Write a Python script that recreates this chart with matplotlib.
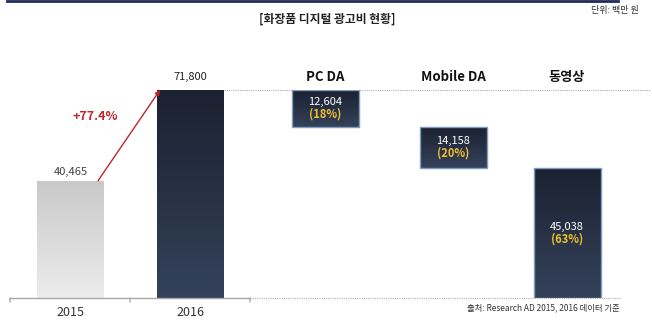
import matplotlib
matplotlib.use("Agg")
import matplotlib.pyplot as plt
import numpy as np
from matplotlib.colors import LinearSegmentedColormap

plt.rcParams['font.family'] = ['Noto Sans CJK KR', 'DejaVu Sans']

years = ["2015", "2016"]
year_values = [40465, 71800]
growth_label = "+77.4%"
segments = ["PC DA", "Mobile DA", "동영상"]
segment_values = [12604, 14158, 45038]
segment_shares = ["(18%)", "(20%)", "(63%)"]
title = "[화장품 디지털 광고비 현황]"
unit_label = "단위: 백만 원"
source_label = "출처: Research AD 2015, 2016 데이터 기준"

W, H = 652, 332
fig = plt.figure(figsize=(W / 100, H / 100), dpi=100)
ax = fig.add_axes([0, 34 / H, 1, 208 / H])
ax.set_xlim(0, W)
ax.set_ylim(0, max(year_values))
ax.axis('off')

# layout (pixel-like x positions)
year_x = [70.5, 190.5]
seg_x = [325, 453.5, 567]
bw = 67

dark = LinearSegmentedColormap.from_list("dark", ["#1b2130", "#34425a"])
light = LinearSegmentedColormap.from_list("light", ["#c9c9c9", "#ececec"])
grad = np.linspace(0, 1, 256).reshape(-1, 1)


def grad_bar(x, bottom, height, cmap, edge=None, lw=0):
    bars = ax.bar(x, height, bottom=bottom, width=bw, color='none',
                  edgecolor='none', linewidth=0, zorder=3)
    b = bars[0]
    im = ax.imshow(grad, cmap=cmap, aspect='auto', zorder=2,
                   extent=[x - bw / 2, x + bw / 2, bottom, bottom + height],
                   origin='upper')
    im.set_clip_path(b)
    ax.bar(x, height, bottom=bottom, width=bw, color='none',
           edgecolor=edge if edge else 'none', linewidth=lw, zorder=4)
    return b

ax.set_xlim(0, W)
ax.set_ylim(0, max(year_values))

# year bars
grad_bar(year_x[0], 0, year_values[0], light)
grad_bar(year_x[1], 0, year_values[1], dark)
ax.annotate(f"{year_values[0]:,}", (year_x[0], year_values[0]), xytext=(0, 9),
            textcoords='offset pixels', ha='center', va='center', fontsize=8,
            color='#444444', annotation_clip=False)
ax.annotate(f"{year_values[1]:,}", (year_x[1], year_values[1]), xytext=(0, 13),
            textcoords='offset pixels', ha='center', va='center', fontsize=8,
            color='#222222', annotation_clip=False)

# growth arrow
ax.annotate("", xy=(year_x[1] - bw / 2 + 3, year_values[1]),
            xytext=(year_x[0] + bw / 2 - 6, year_values[0]),
            arrowprops=dict(arrowstyle='-|>', color='#c0272d', lw=1.0,
                            mutation_scale=7, shrinkA=0, shrinkB=0),
            annotation_clip=False, zorder=6)
ax.text(95, 62500, growth_label, ha='center', va='center', fontsize=9,
        fontweight='bold', color='#c0272d')

# waterfall segments
top = year_values[1]
for x, v, s, name in zip(seg_x, segment_values, segment_shares, segments):
    bottom = top - v
    grad_bar(x, bottom, v, dark, edge='#7f9cc0', lw=1.0)
    ymid = bottom + v / 2
    ax.annotate(f"{v:,}", (x, ymid), xytext=(0, 6), textcoords='offset pixels',
                ha='center', va='center', fontsize=8, color='white', zorder=7)
    ax.annotate(s, (x, ymid), xytext=(0, -6), textcoords='offset pixels',
                ha='center', va='center', fontsize=8, color='#f2c12e',
                fontweight='bold', zorder=7)
    ax.annotate(name, (x, year_values[1]), xytext=(0, 13), textcoords='offset pixels',
                ha='center', va='center', fontsize=9.5, fontweight='bold',
                color='#111111', annotation_clip=False)
    top = bottom

# reference lines
ax.plot([224, 650], [year_values[1]] * 2, color='#b0b0b0', lw=0.8,
        linestyle=(0, (1, 1)), zorder=1, clip_on=False)
ax.plot([250, 620], [0, 0], color='#b0b0b0', lw=0.8,
        linestyle=(0, (1, 1)), zorder=1, clip_on=False)
ax.plot([10, 250], [0, 0], color='#a8a8a8', lw=1.0, zorder=5, clip_on=False)
for tx in [10, 130, 250]:
    ax.annotate("", (tx, 0), xytext=(0, -4), textcoords='offset pixels',
                arrowprops=dict(arrowstyle='-', color='#a8a8a8', lw=1.0,
                                shrinkA=0, shrinkB=0), annotation_clip=False)
for x, y in zip(year_x, years):
    ax.annotate(y, (x, 0), xytext=(0, -14), textcoords='offset pixels',
                ha='center', va='center', fontsize=9, color='#333333',
                annotation_clip=False)

# figure texts
fig.add_artist(plt.Line2D([7 / W, 618 / W], [1 - 1 / H, 1 - 1 / H],
                          color='#1f2a5c', lw=2))
fig.text(327 / W, 1 - 19 / H, title, ha='center', va='center', fontsize=8.5,
         fontweight='bold', color='#222222')
fig.text(615 / W, 1 - 11 / H, unit_label, ha='center', va='center', fontsize=6.5,
         color='#333333')
fig.text(620 / W, 1 - 308 / H, source_label, ha='right', va='center', fontsize=6,
         color='#333333')

fig.savefig("out.png", dpi=100)
